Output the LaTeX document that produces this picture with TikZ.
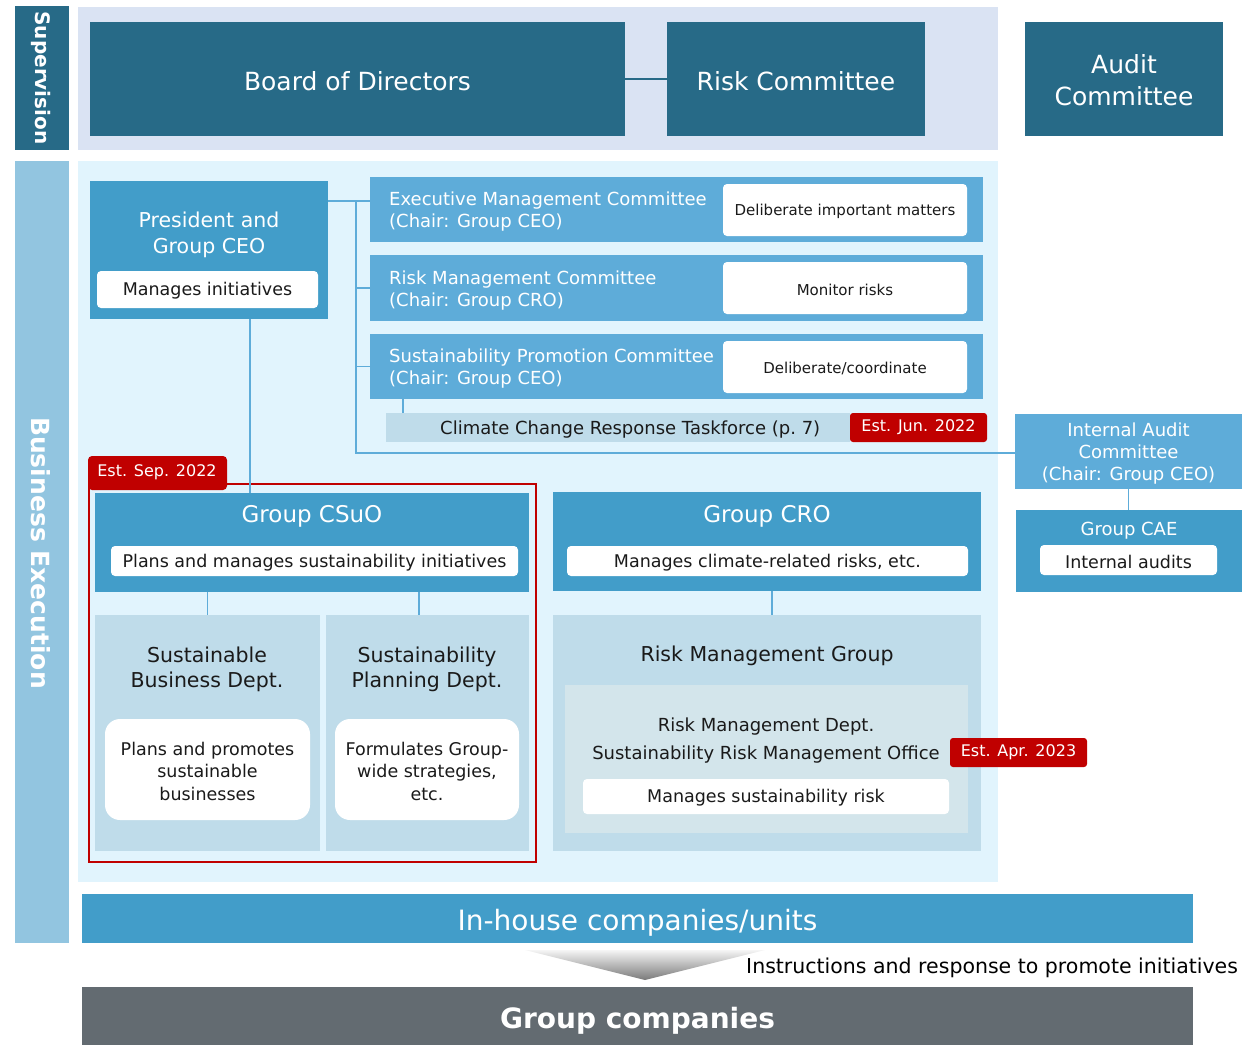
\documentclass[tikz,border=0pt]{standalone}
\usepackage{fontspec}
\setmainfont{DejaVu Sans}
\definecolor{supteal}{RGB}{39,106,135}
\definecolor{supbg}{RGB}{218,227,243}
\definecolor{exebar}{RGB}{146,197,224}
\definecolor{exebg}{RGB}{225,244,253}
\definecolor{midblue}{RGB}{66,157,201}
\definecolor{comblue}{RGB}{94,172,217}
\definecolor{deptbg}{RGB}{191,220,234}
\definecolor{innerbg}{RGB}{211,229,235}
\definecolor{estred}{RGB}{192,0,0}
\definecolor{grpgray}{RGB}{99,107,113}
\definecolor{ink}{RGB}{26,26,26}
\newcommand{\fs}[2]{\fontsize{#1}{#2}\selectfont}
\begin{document}
\begin{tikzpicture}[x=1pt, y=-1pt,
    blk/.style={anchor=north west, inner sep=0pt, outer sep=0pt},
    tag/.style={blk, fill=white, rounded corners=4pt},
    bigtag/.style={blk, fill=white, rounded corners=15pt},
    est/.style={blk, fill=estred, rounded corners=3pt, text=white, font=\fs{16}{19}},
    link/.style={draw=comblue, line width=1.3pt},
    wtxt/.style={text=white, align=center, inner sep=0pt},
    btxt/.style={text=ink, align=center, inner sep=0pt}]
    \useasboundingbox (0,0) rectangle (1253,1045);

    % supervision
    \node[blk, fill=supteal, minimum width=54, minimum height=144] (supbar) at (15,6) {};
    \node[rotate=-90, text=white, font=\bfseries\fs{20}{24}] at (41,78) {Supervision};
    \node[blk, fill=supbg, minimum width=920, minimum height=143] (supback) at (78,7) {};
    \node[blk, fill=supteal, minimum width=535, minimum height=114] (bod) at (90,22) {};
    \node[wtxt, font=\fs{25}{30}] at ([yshift=-2pt]bod.center) {Board of Directors};
    \node[blk, fill=supteal, minimum width=258, minimum height=114] (rc) at (667,22) {};
    \node[wtxt, font=\fs{25}{30}] at ([yshift=-2pt]rc.center) {Risk Committee};
    \draw[draw=supteal, line width=2pt] (bod.east) -- (rc.west);
    \node[blk, fill=supteal, minimum width=198, minimum height=114] (ac) at (1025,22) {};
    \node[wtxt, font=\fs{25}{32}] at ([yshift=-1pt]ac.center) {Audit\\Committee};

    % business execution
    \node[blk, fill=exebar, minimum width=54, minimum height=782] (exebar) at (15,161) {};
    \node[rotate=-90, text=white, font=\bfseries\fs{25}{30}] at (41,553) {Business Execution};
    \node[blk, fill=exebg, minimum width=920, minimum height=721] (exeback) at (78,161) {};

    % president
    \node[blk, fill=midblue, minimum width=238, minimum height=138] (ceo) at (90,181) {};
    \node[wtxt, font=\fs{20.5}{26}] at (209,235) {President and\\Group CEO};
    \node[tag, minimum width=221, minimum height=37] (ceotag) at (97,271) {};
    \node[btxt, font=\fs{17.5}{21}] at ([yshift=-1.5pt]ceotag.center) {Manages initiatives};

    % committees
    \node[blk, fill=comblue, minimum width=613, minimum height=65] (emc) at (370,177) {};
    \node[wtxt, anchor=west, align=left, font=\fs{18}{22}] at (389,212) {Executive Management Committee\\(Chair: Group CEO)};
    \node[tag, minimum width=244, minimum height=52] (emctag) at (723,184) {};
    \node[btxt, font=\fs{15}{18}] at ([yshift=-1.5pt]emctag.center) {Deliberate important matters};

    \node[blk, fill=comblue, minimum width=613, minimum height=66] (rmc) at (370,255) {};
    \node[wtxt, anchor=west, align=left, font=\fs{18}{22}] at (389,291) {Risk Management Committee\\(Chair: Group CRO)};
    \node[tag, minimum width=244, minimum height=52] (rmctag) at (723,262) {};
    \node[btxt, font=\fs{15}{18}] at ([yshift=-1.5pt]rmctag.center) {Monitor risks};

    \node[blk, fill=comblue, minimum width=613, minimum height=65] (spc) at (370,334) {};
    \node[wtxt, anchor=west, align=left, font=\fs{18}{22}] at (389,369) {Sustainability Promotion Committee\\(Chair: Group CEO)};
    \node[tag, minimum width=244, minimum height=52] (spctag) at (723,341) {};
    \node[btxt, font=\fs{15}{18}] at ([yshift=-1.5pt]spctag.center) {Deliberate/coordinate};

    \node[blk, fill=deptbg, minimum width=464, minimum height=29] (ccrt) at (386,413) {};
    \node[btxt, anchor=west, font=\fs{18}{22}] at (440,430) {Climate Change Response Taskforce (p.~7)};
    \node[est, minimum width=137, minimum height=29] (estjun) at (850,413) {Est. Jun. 2022};

    % internal audit
    \node[blk, fill=comblue, minimum width=227, minimum height=75] (iac) at (1015,414) {};
    \node[wtxt, font=\fs{18}{22}] at ([yshift=-2pt]iac.center) {Internal Audit\\Committee\\(Chair: Group CEO)};
    \node[blk, fill=midblue, minimum width=226, minimum height=82] (cae) at (1016,510) {};
    \node[wtxt, font=\fs{18}{22}] at (1129,531) {Group CAE};
    \node[tag, minimum width=177, minimum height=30] (caetag) at (1040,545) {};
    \node[btxt, font=\fs{17.5}{21}] at ([yshift=-1.5pt]caetag.center) {Internal audits};

    % connectors from president
    \coordinate (trunk) at (356,201);
    \coordinate (trunkend) at (356,453);
    \draw[link] (ceo.east |- trunk) -- (emc.west |- trunk);
    \draw[link] (trunk) -- (trunkend) -- (iac.west |- trunkend);
    \draw[link] (trunk |- rmc.west) -- (rmc.west);
    \draw[link] (trunk |- spc.west) -- (spc.west);
    \draw[link] ([xshift=17pt]ccrt.north west) -- ([xshift=17pt]ccrt.north west |- spc.south);
    \draw[link] (iac.south -| caetag.north) -- (caetag.north |- cae.north);

    % group CSuO
    \node[blk, fill=estred, rounded corners=4pt, minimum width=139, minimum height=34] (sepbox) at (88,456) {};
    \node[text=white, font=\fs{16}{19}] at (157,472) {Est. Sep. 2022};
    \node[blk, fill=midblue, minimum width=434, minimum height=99] (csuo) at (95,493) {};
    \node[wtxt, font=\fs{23}{28}] at (312,516) {Group CSuO};
    \node[tag, minimum width=407, minimum height=30] (csuotag) at (111,546) {};
    \node[btxt, font=\fs{17.5}{21}] at ([yshift=-1.5pt]csuotag.center) {Plans and manages sustainability initiatives};

    \node[blk, fill=deptbg, minimum width=225, minimum height=236] (sbd) at (95,615) {};
    \node[btxt, font=\fs{20.5}{25}] at (207,669) {Sustainable\\Business Dept.};
    \node[bigtag, minimum width=205, minimum height=101] (sbdtag) at (105,719) {};
    \node[btxt, font=\fs{17.5}{22.5}] at ([yshift=-1.5pt]sbdtag.center) {Plans and promotes\\sustainable\\businesses};

    \node[blk, fill=deptbg, minimum width=203, minimum height=236] (spd) at (326,615) {};
    \node[btxt, font=\fs{20.5}{25}] at (427,669) {Sustainability\\Planning Dept.};
    \node[bigtag, minimum width=184, minimum height=101] (spdtag) at (335,719) {};
    \node[btxt, font=\fs{17.5}{22.5}] at ([yshift=-1.5pt]spdtag.center) {Formulates Group-\\wide strategies,\\etc.};

    \draw[draw=estred, line width=1.6pt] (89,484) rectangle (536,862);
    \draw[link] ([xshift=160pt]ceo.south west) -- ([xshift=160pt]ceo.south west |- csuo.north);
    \draw[link] (csuo.south -| sbd.north) -- (sbd.north);
    \draw[link] ([xshift=93pt]spd.north west |- csuo.south) -- ([xshift=93pt]spd.north west);

    % group CRO
    \node[blk, fill=midblue, minimum width=428, minimum height=99] (cro) at (553,492) {};
    \node[wtxt, font=\fs{23}{28}] at (767,516) {Group CRO};
    \node[tag, minimum width=401, minimum height=30] (crotag) at (567,546) {};
    \node[btxt, font=\fs{17.5}{21}] at ([yshift=-1.5pt]crotag.center) {Manages climate-related risks, etc.};

    \node[blk, fill=deptbg, minimum width=428, minimum height=236] (rmg) at (553,615) {};
    \node[btxt, font=\fs{20.5}{25}] at (767,656) {Risk Management Group};
    \node[blk, fill=innerbg, minimum width=403, minimum height=148] (rmd) at (565,685) {};
    \node[btxt, font=\fs{18}{28}] at (766,741) {Risk Management Dept.\\Sustainability Risk Management Office};
    \node[tag, minimum width=366, minimum height=35] (rmdtag) at (583,779) {};
    \node[btxt, font=\fs{17.5}{21}] at ([yshift=-1.5pt]rmdtag.center) {Manages sustainability risk};
    \node[est, minimum width=137, minimum height=29] (estapr) at (950,738) {Est. Apr. 2023};
    \draw[link] ([xshift=5pt]cro.south) -- ([xshift=5pt]cro.south |- rmg.north);

    % bottom
    \node[blk, fill=midblue, minimum width=1111, minimum height=49] (inhouse) at (82,894) {};
    \node[wtxt, font=\fs{28}{32}] at ([yshift=-4pt]inhouse.center) {In-house companies/units};
    \shade[top color=gray!8, bottom color=gray!95!black] (525,950) -- (765,950) -- (645,980) -- cycle;
    \node[btxt, anchor=west, text=black, font=\fs{20.5}{24}] at (746,968) {Instructions and response to promote initiatives};
    \node[blk, fill=grpgray, minimum width=1111, minimum height=58] (grpco) at (82,987) {};
    \node[wtxt, font=\bfseries\fs{28}{32}] at ([yshift=-5pt]grpco.center) {Group companies};
\end{tikzpicture}
\end{document}
